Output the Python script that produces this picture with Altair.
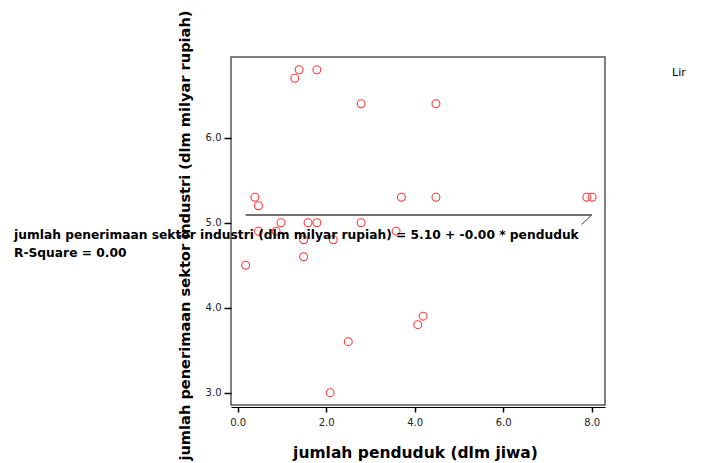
import altair as alt
import pandas as pd

# population (x) and industrial-sector revenue (y)
pop = [0.18, 0.39, 0.47, 0.47, 0.87, 0.98, 1.29, 1.39, 1.49, 1.49, 1.59, 1.79, 1.79,
       2.09, 2.16, 2.50, 2.79, 2.79, 3.58, 3.70, 4.07, 4.19, 4.48, 4.48, 7.89, 8.01]
rev = [4.5, 5.3, 5.2, 4.9, 4.9, 5.0, 6.7, 6.8, 4.8, 4.6, 5.0, 5.0, 6.8,
       3.0, 4.8, 3.6, 5.0, 6.4, 4.9, 5.3, 3.8, 3.9, 6.4, 5.3, 5.3, 5.3]

fit_x = [0.18, 8.0]
fit_y = [5.09, 5.09]
leader_x = [7.77, 8.0]
leader_y = [4.98, 5.09]

x_ticks = [0, 2, 4, 6, 8]
y_ticks = [3, 4, 5, 6]

x_title = "jumlah penduduk (dlm jiwa)"
y_title = "jumlah penerimaan sektor industri (dlm milyar rupiah)"
eq_label = "jumlah penerimaan sektor industri (dlm milyar rupiah) = 5.10 + -0.00 * penduduk"
r2_label = "R-Square = 0.00"
legend_label = "Lir"

FONT = "DejaVu Sans"
W, H = 374, 348

xs = alt.Scale(domain=[-0.15, 8.30], nice=False, zero=False)
ys = alt.Scale(domain=[2.855, 6.95], nice=False, zero=False)

x_axis = alt.Axis(values=x_ticks, format=".1f", title=x_title, grid=False,
                  offset=2, domain=True, domainColor="#000000", domainWidth=1,
                  tickSize=5, tickColor="#000000", tickWidth=1.5,
                  labelFontSize=10, labelColor="#222222",
                  labelFont=FONT, labelPadding=5,
                  titleFont=FONT, titleFontSize=15.5, titleFontWeight="bold", titleColor="#000000",
                  titleX=184, titleY=45, titleBaseline="middle")
y_axis = alt.Axis(values=y_ticks, format=".1f", title=y_title, grid=False,
                  domain=False, tickSize=7, tickColor="#000000", tickWidth=1.5,
                  labelFontSize=10, labelColor="#222222", labelFont=FONT, labelPadding=3,
                  titleFont=FONT, titleFontSize=14.6, titleFontWeight="bold", titleColor="#000000",
                  titleX=-46, titleY=178, titleAngle=-90, titleAlign="center",
                  titleBaseline="middle")

X = alt.X("x:Q", scale=xs, axis=x_axis)
Y = alt.Y("y:Q", scale=ys, axis=y_axis)

pts = pd.DataFrame({"x": pop, "y": rev})
points = alt.Chart(pts).mark_point(shape="circle", filled=False, color="#ff3b3b",
                                   size=62, strokeWidth=1.1, opacity=1).encode(x=X, y=Y)

fit = alt.Chart(pd.DataFrame({"x": fit_x, "y": fit_y})).mark_line(
    color="#404040", strokeWidth=1.5).encode(x=X, y=Y)

leader = alt.Chart(pd.DataFrame({"x": leader_x, "y": leader_y})).mark_line(
    color="#404040", strokeWidth=1).encode(x=X, y=Y)

def label(txt, xv, yv, size, weight):
    return alt.Chart(pd.DataFrame({"t": [txt]})).mark_text(
        align="left", baseline="middle", font=FONT, fontSize=size,
        fontWeight=weight, color="#000000").encode(
        text="t:N", x=alt.value(xv), y=alt.value(yv))

eq = label(eq_label, -217, 178, 12.25, "bold")
r2 = label(r2_label, -217, 196, 12.25, "bold")
lg = label(legend_label, 441, 16, 11, "normal")

chart = alt.layer(points, fit, leader, eq, r2, lg).properties(
    width=W, height=H,
    autosize=alt.AutoSizeParams(type="none"),
    padding={"left": 223, "top": 49, "right": 91, "bottom": 58},
).configure(background="white").configure_view(stroke="#555555", strokeWidth=1.5)

chart.save("out.html", embed_options={"renderer": "svg", "actions": False})
